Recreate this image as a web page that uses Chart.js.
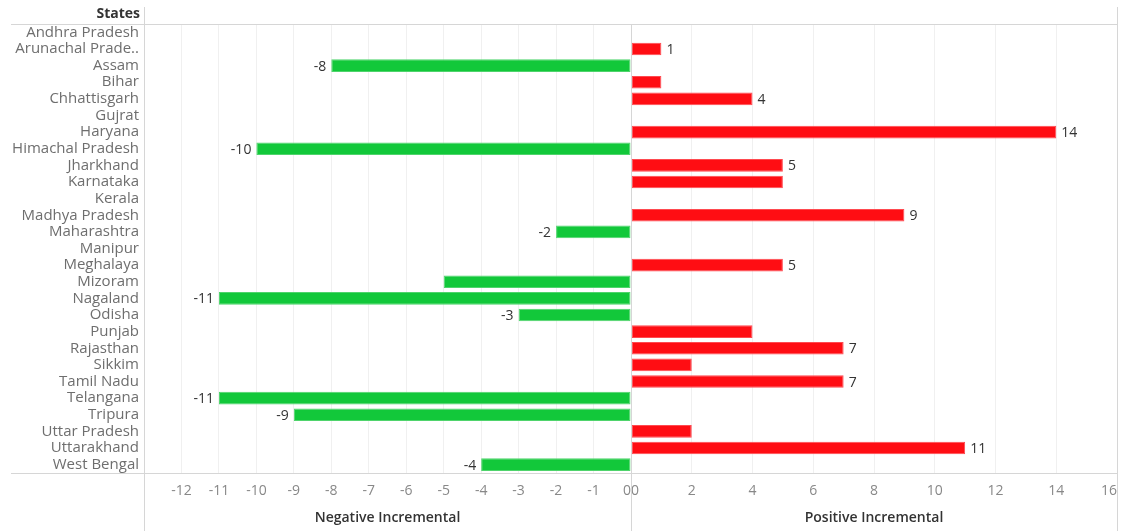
<!DOCTYPE html>
<html lang="en">
  <head>
    <meta charset="UTF-8" />
    <meta name="viewport" content="width=device-width, initial-scale=1.0" />
    <title>States - Incremental</title>
    <script src="https://cdn.jsdelivr.net/npm/chart.js@4.4.0/dist/chart.umd.min.js"></script>
    <style>
      body {
        margin: 0;
        background-color: white;
      }
      .wrap {
        position: relative;
        width: 1121px;
        height: 531px;
      }
      #negChart {
        position: absolute;
        left: 0;
        top: 0;
      }
      #posChart {
        position: absolute;
        left: 631px;
        top: 0;
      }
    </style>
  </head>

  <body>
    <div class="wrap">
      <canvas id="negChart" width="631" height="531"></canvas>
      <canvas id="posChart" width="490" height="531"></canvas>
    </div>

    <script>
      const states = [
        "Andhra Pradesh", "Arunachal Prade..", "Assam", "Bihar", "Chhattisgarh",
        "Gujrat", "Haryana", "Himachal Pradesh", "Jharkhand", "Karnataka",
        "Kerala", "Madhya Pradesh", "Maharashtra", "Manipur", "Meghalaya",
        "Mizoram", "Nagaland", "Odisha", "Punjab", "Rajasthan", "Sikkim",
        "Tamil Nadu", "Telangana", "Tripura", "Uttar Pradesh", "Uttarakhand",
        "West Bengal",
      ];
      const increments = [
        null, 1, -8, 1, 4,
        null, 14, -10, 5, 5,
        null, 9, -2, null, 5,
        -5, -11, -3, 4, 7, 2,
        7, -11, -9, 2, 11,
        -4,
      ];
      // labels that get dropped because they would crowd their neighbours
      const unlabeled = ["Bihar", "Karnataka", "Mizoram", "Punjab", "Sikkim", "Uttar Pradesh"];

      const negRange = [-13, 0];
      const posRange = [0, 16];

      const negValues = increments.map((v) => (v !== null && v < 0 ? v : null));
      const posValues = increments.map((v) => (v !== null && v > 0 ? v : null));

      const FONT = "'Open Sans', 'Noto Sans', sans-serif";

      // value text at the end of each bar
      const valueLabels = {
        id: "valueLabels",
        afterDatasetsDraw(chart) {
          const ctx = chart.ctx;
          const values = chart.data.datasets[0].data;
          ctx.save();
          ctx.font = "14px " + FONT;
          ctx.fillStyle = "#333333";
          ctx.textBaseline = "middle";
          chart.getDatasetMeta(0).data.forEach((bar, i) => {
            const v = values[i];
            if (v === null || unlabeled.includes(states[i])) return;
            const neg = v < 0;
            ctx.textAlign = neg ? "right" : "left";
            ctx.fillText(String(v), bar.x + (neg ? -5 : 5), bar.y + 1);
          });
          ctx.restore();
        },
      };

      // header row, pane borders and the zero divider
      const paneFrame = {
        id: "paneFrame",
        afterDraw(chart, args, opts) {
          const { ctx, chartArea: a, width, height } = chart;
          const line = (x1, y1, x2, y2) => {
            ctx.beginPath();
            ctx.moveTo(x1, y1);
            ctx.lineTo(x2, y2);
            ctx.stroke();
          };
          ctx.save();
          ctx.strokeStyle = "#d6d6d6";
          ctx.lineWidth = 1;
          const top = a.top + 0.5;
          const bottom = a.bottom + 0.5;
          if (opts.side === "left") {
            line(11, top, width, top);
            line(11, bottom, width, bottom);
            line(a.left + 0.5, 7, a.left + 0.5, height);
            ctx.fillStyle = "#333333";
            ctx.font = "bold 14px " + FONT;
            ctx.textAlign = "right";
            ctx.textBaseline = "middle";
            ctx.fillText("States", a.left - 4, 14);
          } else {
            line(0, top, a.right, top);
            line(0, bottom, a.right, bottom);
            line(a.left + 0.5, a.top, a.left + 0.5, height);
            line(a.right + 0.5, 7, a.right + 0.5, height);
          }
          ctx.restore();
        },
      };

      function makeChart(id, values, range, step, title, side) {
        const isLeft = side === "left";
        return new Chart(document.getElementById(id), {
          type: "bar",
          data: {
            labels: states,
            datasets: [
              {
                data: values,
                backgroundColor: isLeft ? "#12c83a" : "#ff0d13",
                borderColor: isLeft ? "#4fd46c" : "#ff4a50",
                borderWidth: 1,
                borderSkipped: false,
                barPercentage: 0.76,
                categoryPercentage: 1,
              },
            ],
          },
          plugins: [valueLabels, paneFrame],
          options: {
            indexAxis: "y",
            responsive: false,
            animation: false,
            layout: {
              padding: { top: 24, right: isLeft ? 0 : 4, left: 0, bottom: 0 },
            },
            plugins: {
              legend: { display: false },
              tooltip: { enabled: false },
              paneFrame: { side: side },
            },
            scales: {
              y: {
                display: isLeft,
                grid: { display: false, drawTicks: false },
                border: { display: false },
                ticks: {
                  color: "#6e6e6e",
                  font: { family: FONT, size: 15 },
                  padding: 5,
                  autoSkip: false,
                },
                afterFit(scale) {
                  if (isLeft) scale.width = 144;
                },
              },
              x: {
                min: range[0],
                max: range[1],
                // invisible tick marks keep the labels clear of the axis line
                grid: {
                  color: "#f0f0f0",
                  drawTicks: true,
                  tickLength: 10,
                  tickColor: "rgba(0,0,0,0)",
                },
                border: { display: false },
                ticks: {
                  stepSize: step,
                  align: "inner",
                  autoSkip: false,
                  maxRotation: 0,
                  color: "#888888",
                  padding: 0,
                  font: { family: FONT, size: 14 },
                  callback: (v) => (isLeft && v === range[0] ? "" : v),
                },
                title: {
                  display: true,
                  text: title,
                  color: "#333333",
                  font: { family: FONT, size: 14, weight: "600" },
                  padding: { top: 0, bottom: 5 },
                },
                afterFit(scale) {
                  scale.height = 58;
                },
              },
            },
          },
        });
      }

      const negChart = makeChart("negChart", negValues, negRange, 1, "Negative Incremental", "left");
      const posChart = makeChart("posChart", posValues, posRange, 2, "Positive Incremental", "right");
    </script>
  </body>
</html>
